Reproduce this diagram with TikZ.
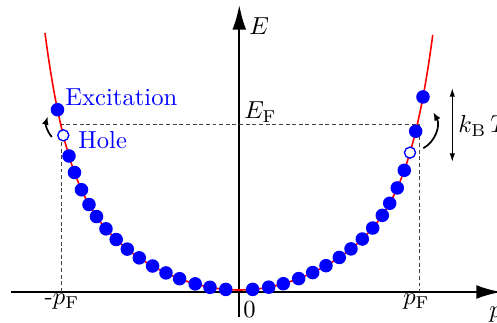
\documentclass[tikz,border=0pt]{standalone}
\usetikzlibrary{arrows.meta}
\begin{document}
\begin{tikzpicture}[x=40.65pt,y=40.65pt,
  declare function={f(\p)=0.32*\p*\p*(1+0.01095*\p*\p*\p*\p*\p*\p*abs(\p));},
  axisline/.style={line width=0.8pt,-{Latex[length=10pt,width=5.6pt]}},
  guide/.style={line width=0.4pt,black!75,dash pattern=on 1.6pt off 1.1pt},
  curve/.style={red,line width=0.65pt},
  dot/.style={circle,fill=blue,inner sep=0pt,minimum size=5.5pt},
  hole/.style={circle,draw=blue,fill=white,line width=0.55pt,inner sep=0pt,minimum size=4.5pt},
  lbl/.style={inner sep=0pt},
  bluelbl/.style={inner sep=0pt,text=blue},
  bendarrow/.style={line width=0.7pt,-{Latex[length=3.4pt,width=2.8pt]}},
  kbarrow/.style={line width=0.4pt,{Latex[length=3.4pt,width=2.2pt]}-{Latex[length=3.4pt,width=2.2pt]}}]
\useasboundingbox (-2.39,-0.33) rectangle (2.58,2.90);
% axes
\coordinate (xs) at (-2.28,-0.02);
\coordinate (xe) at (2.62,-0.02);
\coordinate (ys) at (0.003,-0.27);
\coordinate (ye) at (0.003,2.85);
\draw[axisline] (xs) -- (xe);
\draw[axisline] (ys) -- (ye);
% Fermi guides
\coordinate (lb) at (-1.773,-0.02);
\coordinate (lt) at (-1.773,1.66);
\coordinate (rb) at (1.803,-0.02);
\coordinate (rt) at (1.803,1.66);
\draw[guide] (lb) -- (lt) -- (rt) -- (rb);
% dispersion
\draw[curve] plot[domain=-1.94:1.94,samples=200,smooth] (\x,{f(\x)});
% occupied states
\foreach \p [count=\i] in {0.132,0.29,0.438,0.594,0.73,0.864,0.997,1.117,1.228,1.33,1.425,1.5,1.575,1.645,1.70}
  \node[dot] (L\i) at ({-\p},{f(\p)}) {};
\node[hole] (Lh) at (-1.757,{f(1.757)}) {};
\node[dot] (Lx) at (-1.815,{f(1.815)}) {};
\foreach \p [count=\i] in {0.137,0.297,0.443,0.597,0.737,0.870,1.003,1.120,1.233,1.337,1.433,1.507,1.583,1.653}
  \node[dot] (R\i) at (\p,{f(\p)}) {};
\node[hole] (Rh) at (1.71,{f(1.71)}) {};
\node[dot] (R15) at (1.767,{f(1.767)}) {};
\node[dot] (Rx) at (1.84,{f(1.84)}) {};
% thermal arrows
\coordinate (ra1) at (1.843,1.417);
\coordinate (ra2) at (1.943,1.777);
\draw[bendarrow] (ra1) to[bend right=45] (ra2);
\coordinate (la1) at (-1.872,1.53);
\coordinate (la2) at (-1.913,1.735);
\draw[bendarrow] (la1) to[bend left=28] (la2);
\coordinate (kt) at (2.133,2.017);
\coordinate (kb) at (2.133,1.283);
\draw[kbarrow] (kb) -- (kt);
% labels
\node[lbl,anchor=base west] (Elab) at (0.10,2.55) {$E$};
\node[lbl,anchor=base west] (EFlab) at (0.05,1.71) {$E_{\mathrm{F}}$};
\node[bluelbl,anchor=base west] (exc) at (-1.74,1.84) {Excitation};
\node[bluelbl,anchor=base west] (holelab) at (-1.61,1.41) {Hole};
\node[lbl,anchor=base] (mpf) at (-1.77,-0.15) {-$p_{\mathrm{F}}$};
\node[lbl,anchor=base] (pf) at (1.775,-0.15) {$p_{\mathrm{F}}$};
\node[lbl,anchor=base west] (zero) at (0.04,-0.28) {0};
\node[lbl,anchor=base west] (plab) at (2.50,-0.275) {$p$};
\node[lbl,anchor=base west] (kbt) at (2.19,1.57) {$k_{\mathrm{B}}\,T$};
\end{tikzpicture}
\end{document}
